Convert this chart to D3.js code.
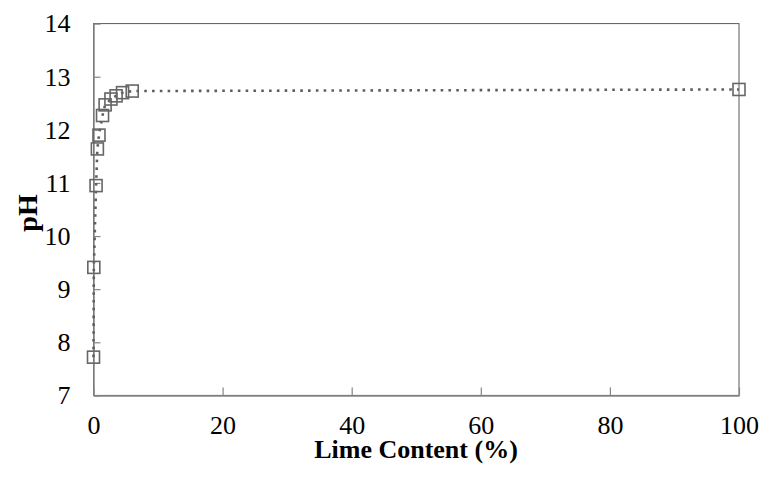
<!DOCTYPE html>
<html>
<head>
<meta charset="utf-8">
<script src="https://cdn.jsdelivr.net/npm/d3@7"></script>
<style>
  html, body { margin: 0; padding: 0; background: #fff; }
  svg { display: block; }
  text { font-family: "Liberation Serif", "Times New Roman", serif; fill: #000; }
</style>
</head>
<body>
<svg id="chart" width="767" height="477"></svg>
<script>
// Data
const limeContent = [0, 0.05, 0.4, 0.6, 0.85, 1.4, 1.8, 2.7, 3.5, 4.5, 6, 100];
const pHValues   = [7.72, 9.41, 10.95, 11.64, 11.90, 12.27, 12.47, 12.58, 12.64, 12.70, 12.73, 12.76];
const xTicks = [0, 20, 40, 60, 80, 100];
const yTicks = [7, 8, 9, 10, 11, 12, 13, 14];
const xTitle = "Lime Content (%)";
const yTitle = "pH";

const svg = d3.select("#chart");
const plotLeft = 93.5, plotRight = 739, plotTop = 23.6, plotBottom = 395.4;

const x = d3.scaleLinear().domain([0, 100]).range([plotLeft, plotRight]);
const y = d3.scaleLinear().domain([7, 14]).range([plotBottom, plotTop]);

// plot frame
svg.append("rect")
  .attr("x", plotLeft).attr("y", plotTop)
  .attr("width", plotRight - plotLeft).attr("height", plotBottom - plotTop)
  .attr("fill", "none").attr("stroke", "#595959").attr("stroke-width", 1);

// axes
const xAxis = d3.axisBottom(x).tickValues(xTicks).tickFormat(d3.format("d")).tickSizeInner(-8).tickSizeOuter(0);
const gx = svg.append("g").attr("transform", `translate(0,${plotBottom})`).call(xAxis);
const yAxis = d3.axisLeft(y).tickValues(yTicks).tickFormat(d3.format("d")).tickSizeInner(-7).tickSizeOuter(0);
const gy = svg.append("g").attr("transform", `translate(${plotLeft},0)`).call(yAxis);

[gx, gy].forEach(g => {
  g.attr("font-family", "Liberation Serif").attr("font-size", 26);
  g.select(".domain").attr("stroke", "#868686").attr("stroke-width", 1.5);
  g.selectAll(".tick line").attr("stroke", "#868686").attr("stroke-width", 1.2);
  g.selectAll(".tick text")
    .style("font-family", "Liberation Serif")
    .style("font-size", "26px").attr("fill", "#000");
});
gx.selectAll(".tick text").attr("dy", "0.71em").attr("y", 20);
gy.selectAll(".tick text").attr("x", -23);

// dotted line connecting points
const line = d3.line().x((d, i) => x(limeContent[i])).y(d => y(d));
svg.append("path")
  .datum(pHValues)
  .attr("d", line)
  .attr("fill", "none")
  .attr("stroke", "#5f5f5f")
  .attr("stroke-width", 2.6)
  .attr("stroke-dasharray", "2.6,5.2");

// square markers
const ms = 12;
svg.append("g").selectAll("rect")
  .data(pHValues)
  .join("rect")
  .attr("x", (d, i) => x(limeContent[i]) - ms / 2)
  .attr("y", d => y(d) - ms / 2)
  .attr("width", ms).attr("height", ms)
  .attr("fill", "none")
  .attr("stroke", "#666")
  .attr("stroke-width", 1.6);

// axis titles
svg.append("text")
  .attr("x", 416).attr("y", 458)
  .attr("text-anchor", "middle")
  .style("font-family", "Liberation Serif")
  .style("font-size", "26px").style("font-weight", "bold")
  .text(xTitle);

svg.append("text")
  .attr("transform", "translate(37,213) rotate(-90)")
  .attr("text-anchor", "middle")
  .style("font-family", "Liberation Serif")
  .style("font-size", "28px").style("font-weight", "bold")
  .text(yTitle);
</script>
</body>
</html>
